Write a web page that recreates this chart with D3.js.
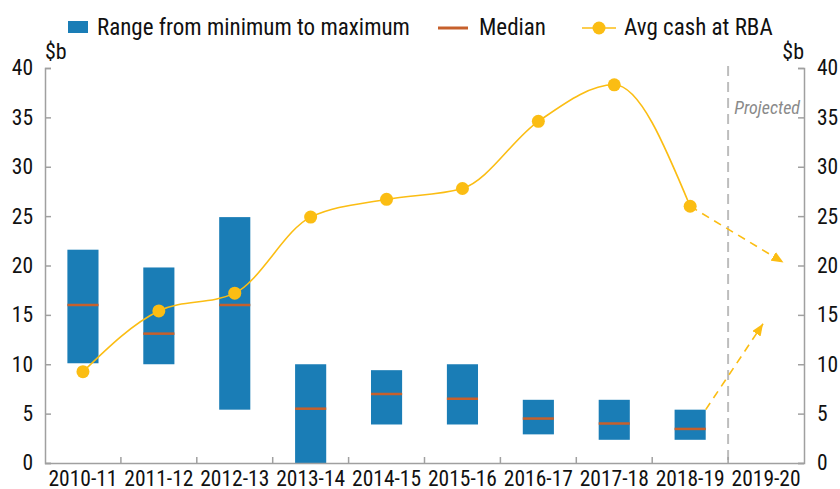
<!DOCTYPE html>
<html>
<head>
<meta charset="utf-8">
<script src="https://cdn.jsdelivr.net/npm/d3@7"></script>
<style>
  body { margin: 0; background: #fff; }
  svg text { font-family: "Roboto Condensed", "Liberation Sans Narrow", "Roboto", sans-serif; fill: #111; }
</style>
</head>
<body>
<div id="chart"></div>
<script>
const years = ["2010-11", "2011-12", "2012-13", "2013-14", "2014-15", "2015-16", "2016-17", "2017-18", "2018-19", "2019-20"];
const rangeMin = [10.1, 10.0, 5.4, 0, 3.9, 3.9, 2.9, 2.35, 2.35];
const rangeMax = [21.6, 19.8, 24.9, 10.0, 9.4, 10.0, 6.4, 6.4, 5.4];
const median = [16.0, 13.1, 16.0, 5.5, 7.0, 6.5, 4.5, 4.0, 3.45];
const avgCash = [9.25, 15.4, 17.2, 24.9, 26.7, 27.8, 34.6, 38.3, 26.0];
const projectedAvg = 20.3;
const projectedRange = 14.1;
const yTicks = [0, 5, 10, 15, 20, 25, 30, 35, 40];

const width = 840, height = 489;
const plotLeft = 45, plotRight = 804, plotTop = 68, plotBottom = 463;
const blue = "#1a7db6", orange = "#c6602c", yellow = "#fbbd13", axisGrey = "#a0a0a0";

const svg = d3.select("#chart").append("svg")
  .attr("width", width)
  .attr("height", height);

const x = d3.scaleBand().domain(years).range([plotLeft, plotRight]).paddingInner(0).paddingOuter(0);
const y = d3.scaleLinear().domain([0, 40]).range([plotBottom, plotTop]);
const bw = x.bandwidth();
const barW = bw * 0.41;
const cx = d => x(d) + bw / 2;

// arrow marker
svg.append("defs").append("marker")
  .attr("id", "arrow")
  .attr("markerUnits", "userSpaceOnUse")
  .attr("viewBox", "0 0 12 10")
  .attr("refX", 12).attr("refY", 5)
  .attr("markerWidth", 12).attr("markerHeight", 10)
  .attr("orient", "auto")
  .append("path")
  .attr("d", "M0,0L12,5L0,10Z")
  .attr("fill", yellow);

// projected divider
svg.append("line")
  .attr("x1", x("2019-20")).attr("x2", x("2019-20"))
  .attr("y1", y(40) - 2).attr("y2", plotBottom)
  .attr("stroke", "#bdbdbd").attr("stroke-width", 2)
  .attr("stroke-dasharray", "10,6");

svg.append("text")
  .attr("x", plotRight - 4).attr("y", 114)
  .attr("text-anchor", "end")
  .style("font-style", "italic")
  .style("font-size", "18px")
  .style("fill", "#8a8a8a")
  .text("Projected");

// range bars
const hist = years.slice(0, rangeMin.length);
svg.append("g").selectAll("rect")
  .data(hist)
  .enter().append("rect")
  .attr("x", d => cx(d) - barW / 2)
  .attr("width", barW)
  .attr("y", (d, i) => y(rangeMax[i]))
  .attr("height", (d, i) => y(rangeMin[i]) - y(rangeMax[i]))
  .attr("fill", blue);

svg.append("g").selectAll("line")
  .data(hist)
  .enter().append("line")
  .attr("x1", d => cx(d) - barW / 2)
  .attr("x2", d => cx(d) + barW / 2)
  .attr("y1", (d, i) => y(median[i]))
  .attr("y2", (d, i) => y(median[i]))
  .attr("stroke", orange).attr("stroke-width", 2.5);

// avg cash line
const pts = hist.map((d, i) => [cx(d), y(avgCash[i])]);
svg.append("path")
  .attr("d", d3.line().curve(d3.curveMonotoneX)(pts))
  .attr("fill", "none")
  .attr("stroke", yellow).attr("stroke-width", 1.6);

// projections
const last = hist.length - 1;
svg.append("line")
  .attr("x1", cx(hist[last])).attr("y1", y(avgCash[last]))
  .attr("x2", cx("2019-20") + bw * 0.23).attr("y2", y(projectedAvg))
  .attr("stroke", yellow).attr("stroke-width", 1.6)
  .attr("stroke-dasharray", "8,6")
  .attr("marker-end", "url(#arrow)");

svg.append("line")
  .attr("x1", cx(hist[last]) + barW / 2).attr("y1", y(rangeMax[last]))
  .attr("x2", cx("2019-20") - 3).attr("y2", y(projectedRange))
  .attr("stroke", yellow).attr("stroke-width", 1.6)
  .attr("stroke-dasharray", "8,6")
  .attr("marker-end", "url(#arrow)");

svg.append("g").selectAll("circle")
  .data(pts)
  .enter().append("circle")
  .attr("cx", d => d[0]).attr("cy", d => d[1])
  .attr("r", 6.5)
  .attr("fill", yellow);

// axes
const styleAxis = g => {
  g.selectAll("path, line").attr("stroke", axisGrey).attr("stroke-width", 1.5);
  g.selectAll("text").style("font-size", "21.5px").attr("fill", "#111");
};

svg.append("g")
  .attr("transform", `translate(${plotLeft},0)`)
  .call(d3.axisLeft(y).tickValues(yTicks).tickSize(-6).tickPadding(12))
  .call(styleAxis);

svg.append("g")
  .attr("transform", `translate(${plotRight},0)`)
  .call(d3.axisRight(y).tickValues(yTicks).tickSize(-6).tickPadding(13))
  .call(styleAxis);

const xAxis = svg.append("g")
  .attr("transform", `translate(0,${plotBottom})`)
  .call(d3.axisBottom(x).tickSize(0).tickPadding(8))
  .call(styleAxis);
xAxis.select(".domain").attr("d", `M${plotLeft},0.5H${plotRight}`);

svg.append("g").selectAll("line")
  .data(years.slice(1))
  .enter().append("line")
  .attr("x1", d => x(d)).attr("x2", d => x(d))
  .attr("y1", plotBottom).attr("y2", plotBottom - 6)
  .attr("stroke", axisGrey).attr("stroke-width", 1.5);

// units
svg.append("text").attr("x", plotLeft).attr("y", 59).style("font-size", "22px").text("$b");
svg.append("text").attr("x", plotRight).attr("y", 59).attr("text-anchor", "end").style("font-size", "22px").text("$b");

// legend
const legend = svg.append("g").style("font-size", "23px");
legend.append("rect").attr("x", 68).attr("y", 21).attr("width", 20).attr("height", 12).attr("fill", blue);
legend.append("text").attr("x", 97).attr("y", 35).text("Range from minimum to maximum");
legend.append("line").attr("x1", 438).attr("x2", 468).attr("y1", 28).attr("y2", 28)
  .attr("stroke", orange).attr("stroke-width", 3);
legend.append("text").attr("x", 479).attr("y", 35).text("Median");
legend.append("line").attr("x1", 582).attr("x2", 616).attr("y1", 28).attr("y2", 28)
  .attr("stroke", yellow).attr("stroke-width", 1.6);
legend.append("circle").attr("cx", 599).attr("cy", 28).attr("r", 6.5).attr("fill", yellow);
legend.append("text").attr("x", 624).attr("y", 35).text("Avg cash at RBA");
</script>
</body>
</html>
